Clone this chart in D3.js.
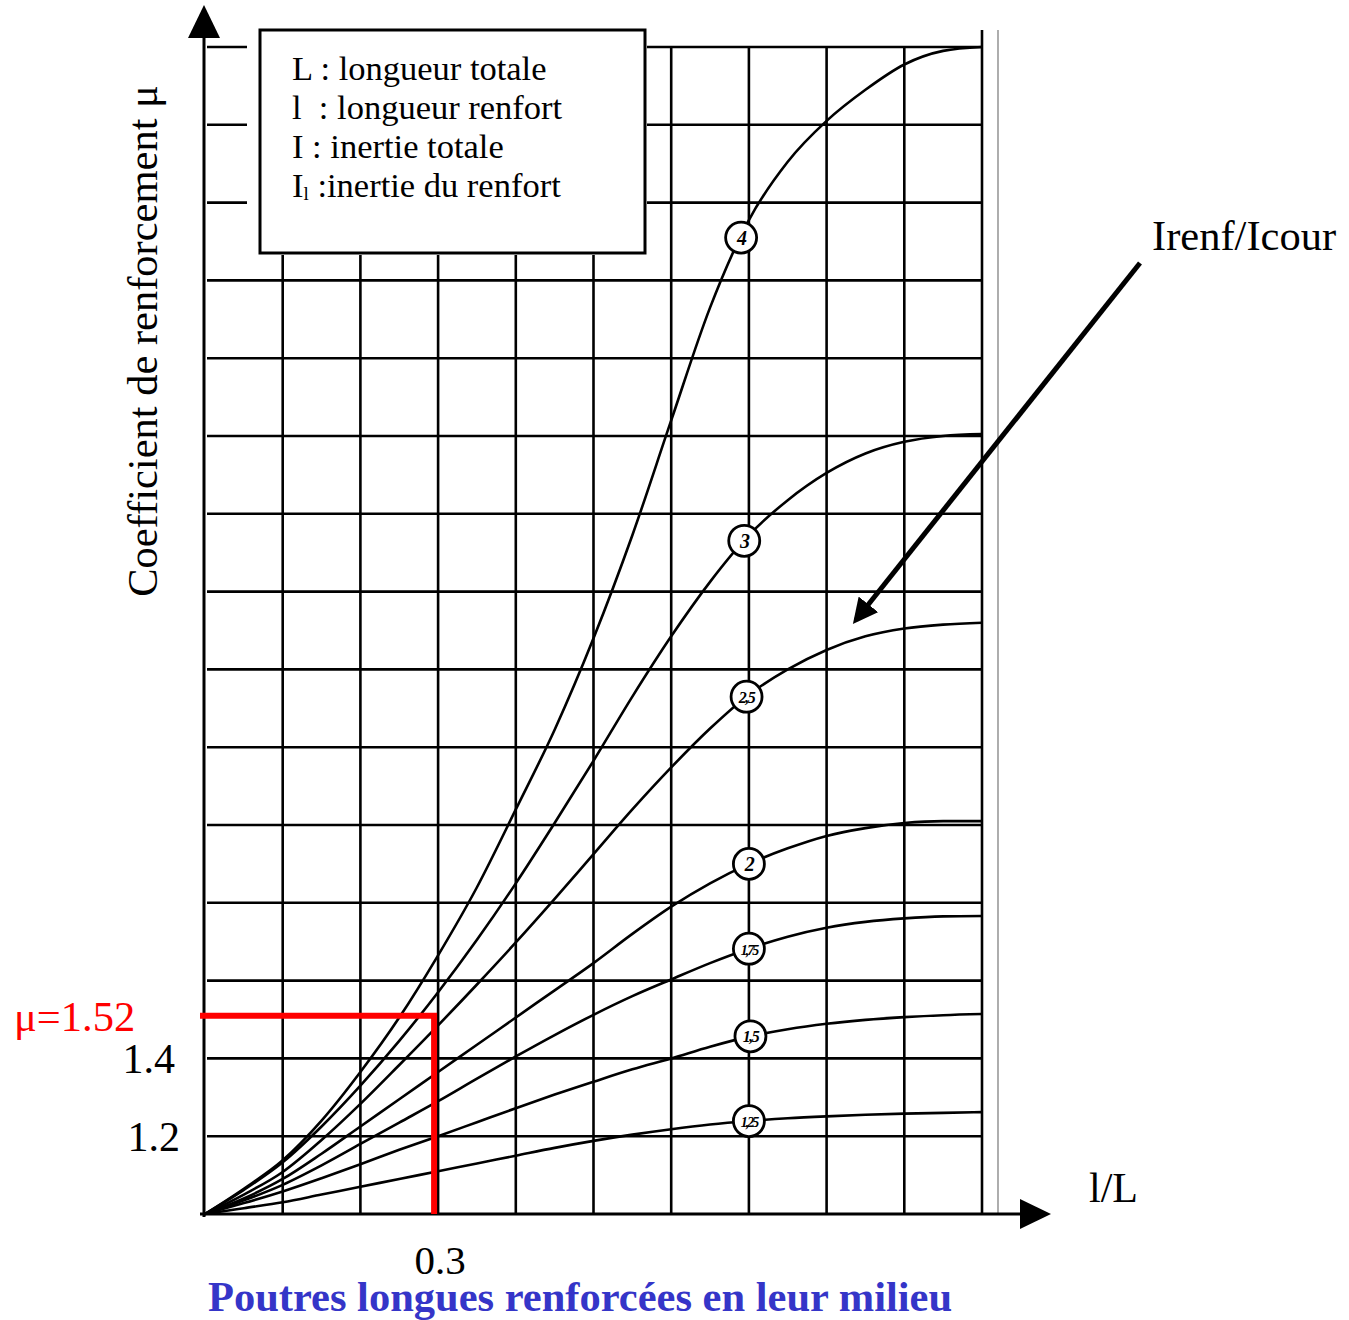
<!DOCTYPE html>
<html>
<head>
<meta charset="utf-8">
<script src="https://cdn.jsdelivr.net/npm/d3@7"></script>
<style>
  body { margin: 0; background: #fff; }
  svg { display: block; }
  text { font-family: "Liberation Serif", "Times New Roman", serif; }
</style>
</head>
<body>
<div id="chart"></div>
<script>
// Abscisse l/L (pas de 0.05)
const lOverL = [0, 0.05, 0.1, 0.15, 0.2, 0.25, 0.3, 0.35, 0.4, 0.45, 0.5,
  0.55, 0.6, 0.65, 0.7, 0.75, 0.8, 0.85, 0.9, 0.95, 1.0];

// Courbes mu pour chaque rapport Irenf/Icour
const ratioLabels = ['4', '3', '2,5', '2', '1,75', '1,5', '1,25'];
const mu4   = [1, 1.065, 1.138, 1.24, 1.365, 1.505, 1.665, 1.84, 2.04, 2.245, 2.48,
  2.745, 3.04, 3.33, 3.555, 3.705, 3.81, 3.89, 3.955, 3.99, 4.0];
const mu3   = [1, 1.062, 1.133, 1.225, 1.33, 1.445, 1.57, 1.705, 1.85, 2.005, 2.165,
  2.33, 2.485, 2.625, 2.745, 2.835, 2.905, 2.955, 2.985, 3.0, 3.005];
const mu25  = [1, 1.05, 1.108, 1.19, 1.283, 1.383, 1.485, 1.59, 1.698, 1.81, 1.925,
  2.04, 2.148, 2.248, 2.335, 2.40, 2.45, 2.485, 2.505, 2.515, 2.52];
const mu2   = [1, 1.04, 1.09, 1.155, 1.225, 1.295, 1.365, 1.435, 1.505, 1.575, 1.645,
  1.72, 1.79, 1.85, 1.90, 1.94, 1.972, 1.992, 2.005, 2.01, 2.01];
const mu175 = [1, 1.035, 1.075, 1.125, 1.18, 1.235, 1.29, 1.348, 1.405, 1.46, 1.512,
  1.56, 1.603, 1.645, 1.682, 1.713, 1.736, 1.751, 1.76, 1.765, 1.766];
const mu15  = [1, 1.028, 1.058, 1.092, 1.128, 1.165, 1.2, 1.236, 1.272, 1.307, 1.34,
  1.372, 1.40, 1.43, 1.456, 1.475, 1.489, 1.499, 1.506, 1.511, 1.514];
const mu125 = [1, 1.015, 1.03, 1.05, 1.07, 1.09, 1.11, 1.13, 1.15, 1.17, 1.188,
  1.204, 1.218, 1.23, 1.239, 1.246, 1.251, 1.255, 1.258, 1.26, 1.262];
const labelAt = [0.69, 0.694, 0.697, 0.70, 0.70, 0.702, 0.70];

// Graduations
const xGrid = [0.1, 0.2, 0.3, 0.4, 0.5, 0.6, 0.7, 0.8, 0.9, 1.0];
const yGrid = [1.2, 1.4, 1.6, 1.8, 2.0, 2.2, 2.4, 2.6, 2.8, 3.0, 3.2, 3.4, 3.6, 3.8, 4.0];
const yTickLabels = [1.2, 1.4];
const xTickLabels = [0.3];
const muRead = 1.52;

const legendLines = ['L : longueur totale', 'l  : longueur renfort', 'I : inertie totale'];

const W = 1349, H = 1320;
const svg = d3.select('#chart').append('svg')
  .attr('width', W).attr('height', H);

const x = d3.scaleLinear().domain([0, 1]).range([205, 982]);
const y = d3.scaleLinear().domain([1, 4]).range([1214, 47]);

const series = [mu4, mu3, mu25, mu2, mu175, mu15, mu125].map((vals, i) => ({
  label: ratioLabels[i],
  at: labelAt[i],
  points: lOverL.map((v, j) => [v, vals[j]])
}));

// Grille
svg.append('g').selectAll('line')
  .data(yGrid)
  .join('line')
  .attr('x1', 207).attr('x2', x(1))
  .attr('y1', d => y(d)).attr('y2', d => y(d))
  .attr('stroke', '#000').attr('stroke-width', 2.6);

svg.append('g').selectAll('line')
  .data(xGrid)
  .join('line')
  .attr('x1', d => x(d)).attr('x2', d => x(d))
  .attr('y1', d => d === 1 ? 30 : y(4)).attr('y2', y(1))
  .attr('stroke', '#000').attr('stroke-width', 2.6);

// bord du scan
svg.append('line')
  .attr('x1', 998).attr('x2', 998).attr('y1', 30).attr('y2', y(1))
  .attr('stroke', '#777').attr('stroke-width', 1.2);

// Courbes
const line = d3.line()
  .x(d => x(d[0]))
  .y(d => y(d[1]))
  .curve(d3.curveMonotoneX);

svg.append('g').selectAll('path')
  .data(series)
  .join('path')
  .attr('d', d => line(d.points))
  .attr('fill', 'none')
  .attr('stroke', '#000')
  .attr('stroke-width', 2.6);

// Etiquettes des courbes
const interp = (pts, v) => {
  const i = d3.bisector(p => p[0]).right(pts, v) - 1;
  const a = pts[Math.max(0, i)], b = pts[Math.min(pts.length - 1, i + 1)];
  const t = b[0] === a[0] ? 0 : (v - a[0]) / (b[0] - a[0]);
  return a[1] + t * (b[1] - a[1]);
};

const lab = svg.append('g').selectAll('g')
  .data(series)
  .join('g')
  .attr('transform', d => `translate(${x(d.at)},${y(interp(d.points, d.at))})`);

lab.append('circle')
  .attr('r', 15.5)
  .attr('fill', '#fff')
  .attr('stroke', '#000')
  .attr('stroke-width', 2.8);

lab.append('text')
  .attr('text-anchor', 'middle')
  .attr('dy', d => d.label.length === 1 ? 7 : 6)
  .attr('font-family', 'DejaVu Sans')
  .attr('font-style', 'italic')
  .attr('font-weight', 'bold')
  .attr('font-size', d => d.label.length === 1 ? 20 : (d.label.length === 3 ? 16 : 14))
  .attr('letter-spacing', d => d.label.length > 3 ? -2 : -1.5)
  .text(d => d.label);

// Cadre de la légende
svg.append('rect')
  .attr('x', 247).attr('y', 20).attr('width', 400).attr('height', 235)
  .attr('fill', '#fff');
svg.append('rect')
  .attr('x', 260).attr('y', 30).attr('width', 385).attr('height', 223)
  .attr('fill', '#fff').attr('stroke', '#000').attr('stroke-width', 3);

const leg = svg.append('g').attr('font-size', 34.5);
legendLines.forEach((t, i) => {
  leg.append('text')
    .attr('x', 292).attr('y', 80 + i * 39)
    .attr('xml:space', 'preserve')
    .style('white-space', 'pre')
    .text(t);
});
const last = leg.append('text').attr('x', 292).attr('y', 197);
last.append('tspan').text('I');
last.append('tspan').attr('font-size', 19).attr('dy', 3).text('l');
last.append('tspan').attr('dy', -3).text(' :inertie du renfort');

// Axes avec flèches
svg.append('line')
  .attr('x1', 204).attr('x2', 204).attr('y1', y(1) + 3).attr('y2', 30)
  .attr('stroke', '#000').attr('stroke-width', 3);
svg.append('path')
  .attr('d', 'M204,5 L188,38 L220,38 Z').attr('fill', '#000');

svg.append('line')
  .attr('x1', 200).attr('x2', 1022).attr('y1', y(1)).attr('y2', y(1))
  .attr('stroke', '#000').attr('stroke-width', 3);
svg.append('path')
  .attr('d', `M1051,${y(1)} L1020,${y(1) - 15} L1020,${y(1) + 15} Z`).attr('fill', '#000');

// Lecture de mu en rouge
svg.append('path')
  .attr('d', `M200,${y(muRead) + 4} H${x(0.3) - 4} V${y(1)}`)
  .attr('fill', 'none')
  .attr('stroke', '#ff0000')
  .attr('stroke-width', 6);

// Textes
svg.append('g').selectAll('text')
  .data(yTickLabels)
  .join('text')
  .attr('x', d => d === 1.4 ? 175 : 180)
  .attr('y', d => y(d) + 15)
  .attr('text-anchor', 'end')
  .attr('font-size', 42)
  .text(d => d.toFixed(1));

svg.append('text')
  .attr('x', 14).attr('y', y(muRead) + 19)
  .attr('font-size', 42.5)
  .attr('fill', '#ff0000')
  .text('μ=' + muRead.toFixed(2));

svg.append('g').selectAll('text')
  .data(xTickLabels)
  .join('text')
  .attr('x', d => x(d) + 2)
  .attr('y', 1274)
  .attr('text-anchor', 'middle')
  .attr('font-size', 41)
  .text(d => d.toFixed(1));

svg.append('text')
  .attr('x', 1089).attr('y', 1202)
  .attr('font-size', 42)
  .text('l/L');

svg.append('text')
  .attr('transform', 'translate(157,341) rotate(-90)')
  .attr('text-anchor', 'middle')
  .attr('font-size', 42.5)
  .text('Coefficient de renforcement μ');

svg.append('text')
  .attr('x', 1152).attr('y', 250)
  .attr('font-size', 42.5)
  .text('Irenf/Icour');

// Flèche Irenf/Icour
svg.append('defs').append('marker')
  .attr('id', 'tip')
  .attr('viewBox', '0 0 10 10')
  .attr('refX', 8).attr('refY', 5)
  .attr('markerWidth', 5).attr('markerHeight', 5)
  .attr('orient', 'auto')
  .append('path').attr('d', 'M0,0 L10,5 L0,10 Z').attr('fill', '#000');

svg.append('line')
  .attr('x1', 1140).attr('y1', 263).attr('x2', 856).attr('y2', 620)
  .attr('stroke', '#000').attr('stroke-width', 5)
  .attr('marker-end', 'url(#tip)');

// Titre
svg.append('text')
  .attr('x', 208).attr('y', 1311)
  .attr('font-size', 42.5)
  .attr('font-weight', 'bold')
  .attr('fill', '#3535c8')
  .text('Poutres longues renforcées en leur milieu');
</script>
</body>
</html>
